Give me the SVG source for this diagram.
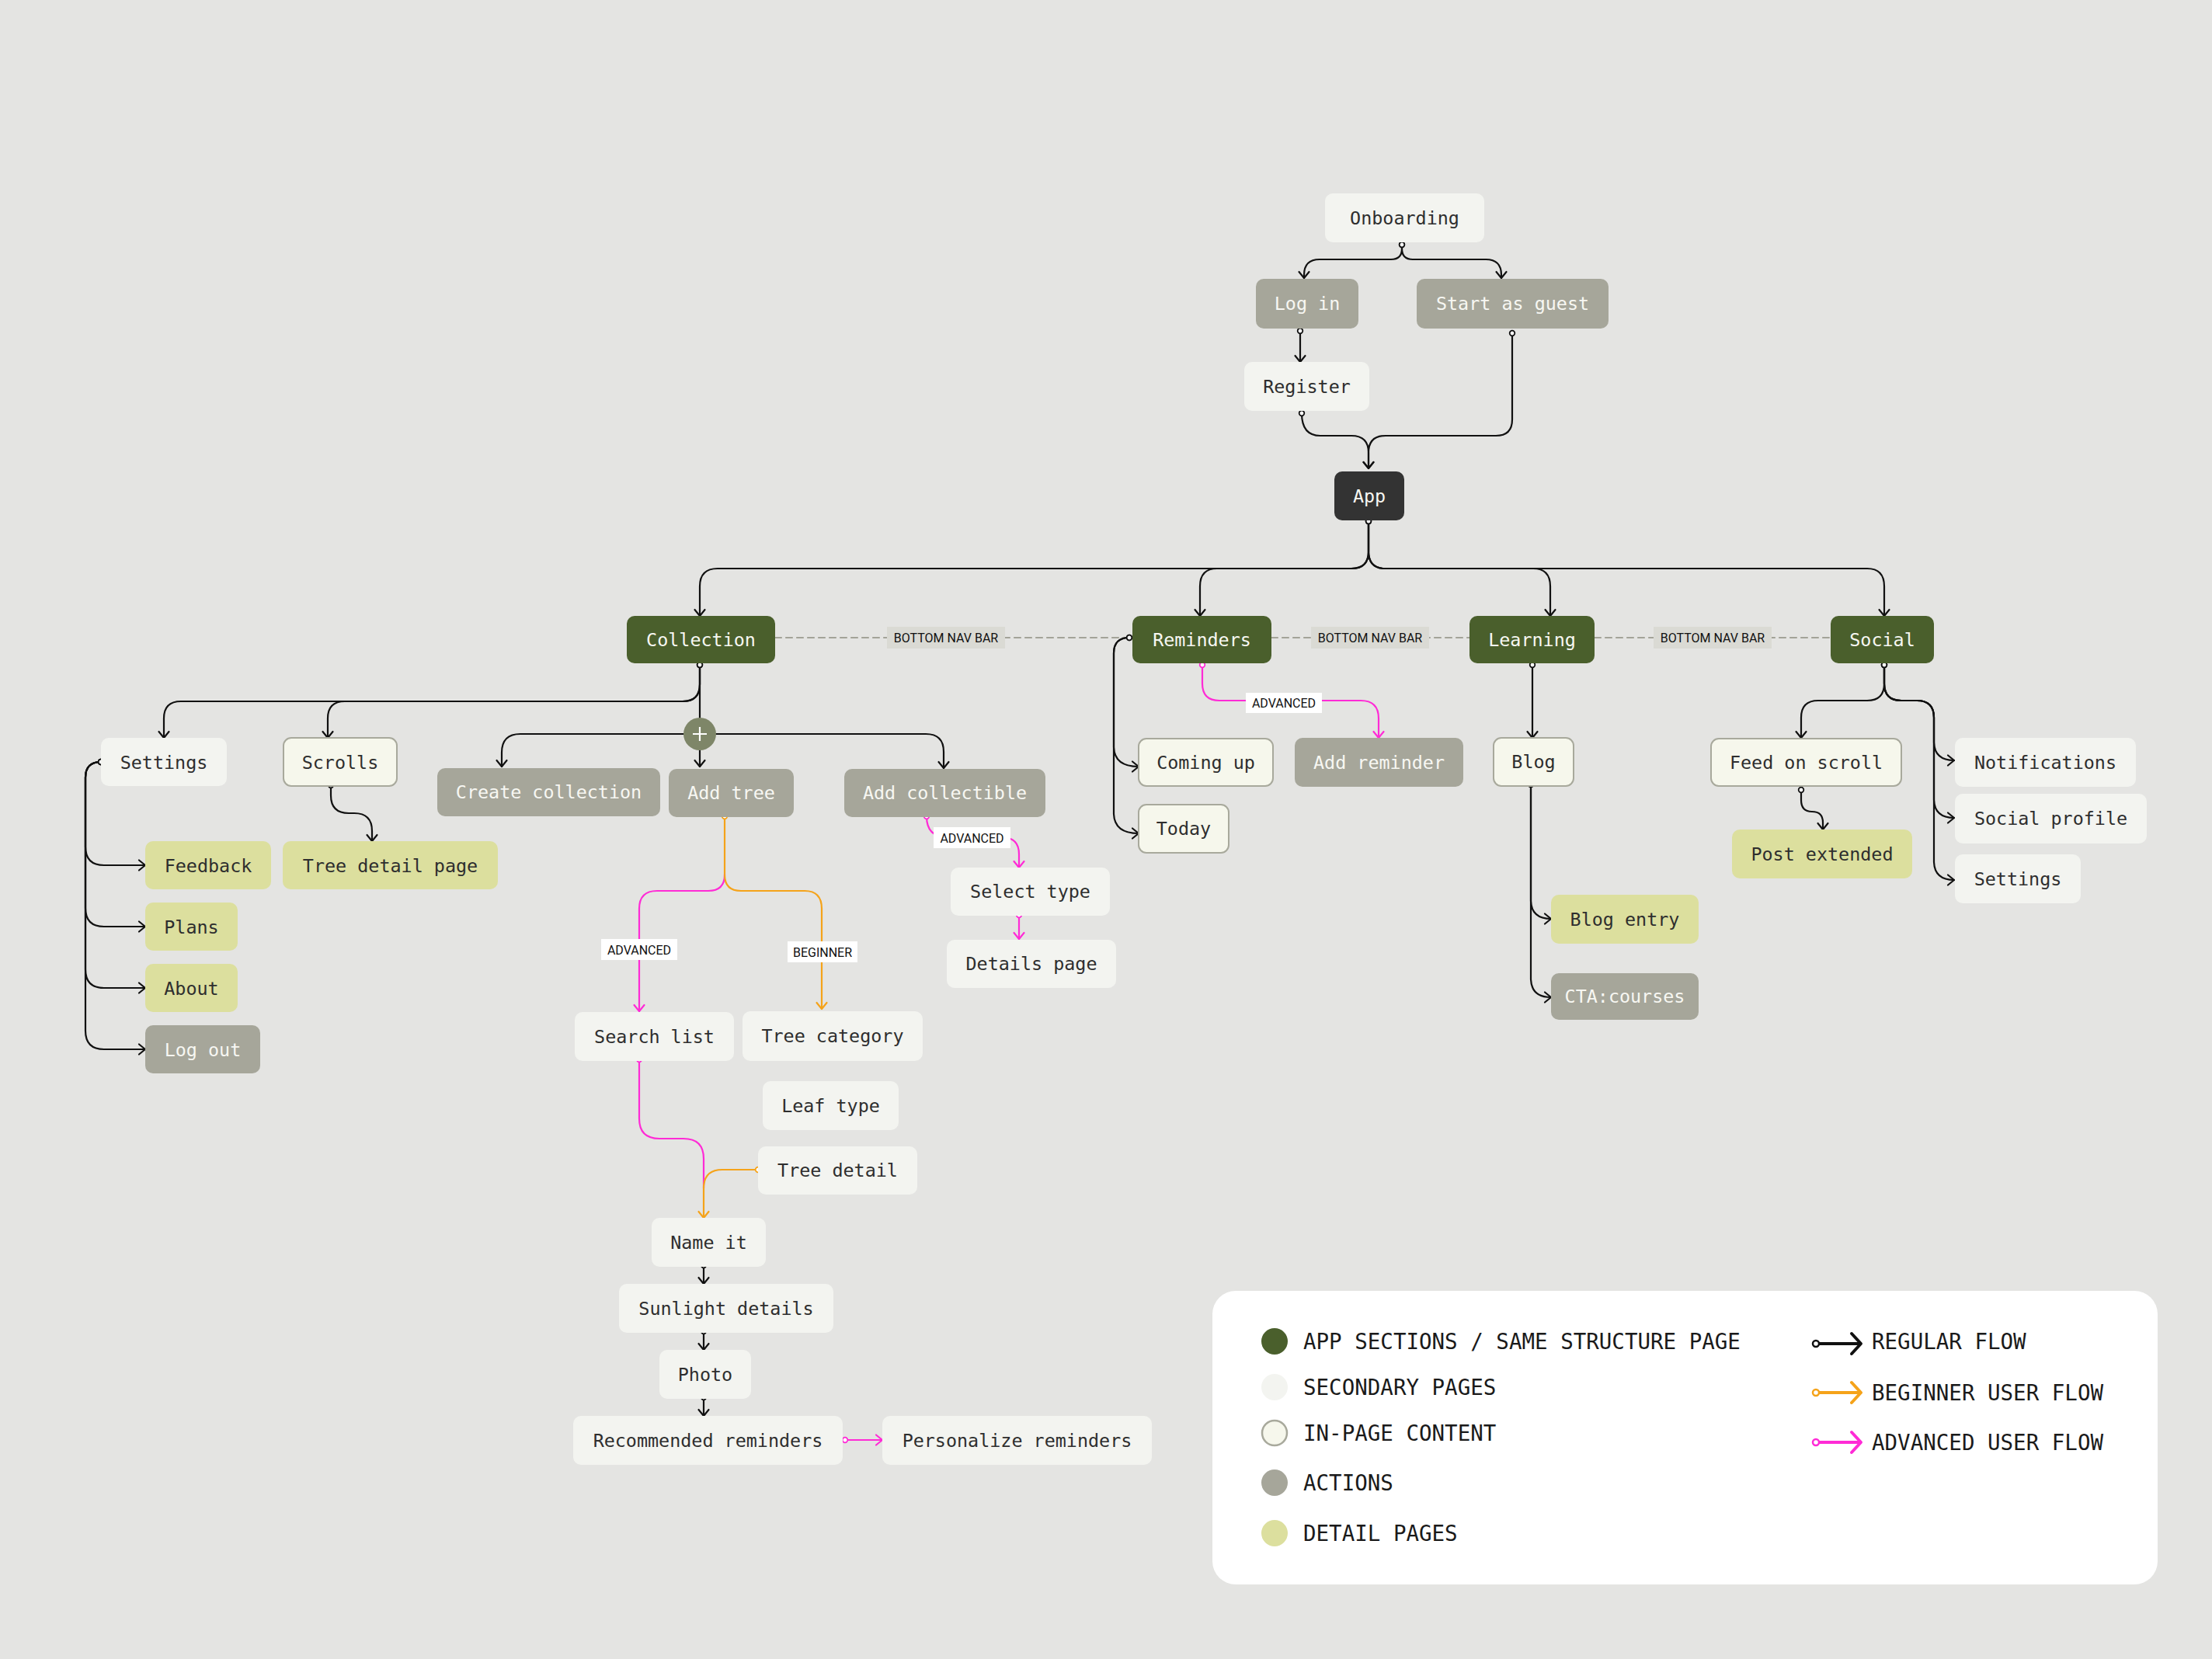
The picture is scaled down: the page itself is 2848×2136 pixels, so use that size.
<svg xmlns="http://www.w3.org/2000/svg" width="2848" height="2136" viewBox="0 0 2848 2136">
<defs>
<style>
.n rect{rx:10;ry:10}
.sec rect{fill:#f3f4f0}
.inp rect{fill:#f6f7ec;stroke:#a8a99c;stroke-width:2}
.act rect{fill:#a6a69a}
.det rect{fill:#dcdf9e}
.sct rect{fill:#4a5f2c}
.app rect{fill:#333333}
.n text{font-family:"DejaVu Sans Mono","Liberation Mono",monospace;font-size:23.4px;text-anchor:middle;fill:#2e2e2e}
.act text,.sct text,.app text{fill:#f7f7f2}
.c path{fill:none;stroke-width:2.2;stroke-linecap:round;stroke-linejoin:round}
.k{stroke:#111;marker-end:url(#ak)}
.o{stroke:#f5a31a;marker-end:url(#ao)}
.p{stroke:#ff2bd6;marker-end:url(#ap)}
.ks{marker-start:url(#dk)}
.os{marker-start:url(#do)}
.ps{marker-start:url(#dp)}
.ne{marker-end:none}
.dash{stroke:#a3a398;stroke-width:2;stroke-dasharray:8 6;fill:none}
.lb rect{fill:#dadad4}
.lw rect{fill:#ffffff}
.lb text,.lw text{font-family:Roboto,"Liberation Sans",sans-serif;font-size:16px;text-anchor:middle;fill:#111}
.lg text{font-family:"DejaVu Sans Mono","Liberation Mono",monospace;font-size:27.5px;fill:#1a1a1a}
</style>
<marker id="ak" markerUnits="userSpaceOnUse" markerWidth="24" markerHeight="24" viewBox="-12 -12 24 24" refX="0" refY="0" orient="auto"><path d="M-8,-6.5 L0,0 L-8,6.5" fill="none" stroke="#111" stroke-width="2.2" stroke-linecap="round" stroke-linejoin="round"/></marker>
<marker id="ao" markerUnits="userSpaceOnUse" markerWidth="24" markerHeight="24" viewBox="-12 -12 24 24" refX="0" refY="0" orient="auto"><path d="M-8,-6.5 L0,0 L-8,6.5" fill="none" stroke="#f5a31a" stroke-width="2.2" stroke-linecap="round" stroke-linejoin="round"/></marker>
<marker id="ap" markerUnits="userSpaceOnUse" markerWidth="24" markerHeight="24" viewBox="-12 -12 24 24" refX="0" refY="0" orient="auto"><path d="M-8,-6.5 L0,0 L-8,6.5" fill="none" stroke="#ff2bd6" stroke-width="2.2" stroke-linecap="round" stroke-linejoin="round"/></marker>
<marker id="dk" markerUnits="userSpaceOnUse" markerWidth="12" markerHeight="12" viewBox="-6 -6 12 12" refX="0" refY="0" orient="auto"><circle r="3.3" fill="#ffffff" stroke="#111" stroke-width="1.8"/></marker>
<marker id="do" markerUnits="userSpaceOnUse" markerWidth="12" markerHeight="12" viewBox="-6 -6 12 12" refX="0" refY="0" orient="auto"><circle r="3.3" fill="#ffffff" stroke="#f5a31a" stroke-width="1.8"/></marker>
<marker id="dp" markerUnits="userSpaceOnUse" markerWidth="12" markerHeight="12" viewBox="-6 -6 12 12" refX="0" refY="0" orient="auto"><circle r="3.3" fill="#ffffff" stroke="#ff2bd6" stroke-width="1.8"/></marker>
</defs>
<rect width="2848" height="2136" fill="#e4e4e2"/>

<g id="connectors" class="c">
<path class="dash" d="M998,821 H1458 M1637,821 H1892 M2053,821 H2357"/>
<path class="k ks" d="M1805,315 V320 Q1805,334 1791,334 H1699 Q1679,334 1679,354 V358"/>
<path class="k ks" d="M1805,315 V320 Q1805,334 1819,334 H1913 Q1933,334 1933,354 V358"/>
<path class="k ks" d="M1674,426 V466"/>
<path class="k ks" d="M1676,532 Q1676,561 1700,561 H1740 Q1762,561 1762,583 V603"/>
<path class="k ks" d="M1947,429 V540 Q1947,561 1926,561 H1784 Q1762,561 1762,583 V603"/>
<path class="k ks" d="M1762,671 V710 Q1762,732 1740,732 H924 Q901,732 901,755 V793"/>
<path class="k ks" d="M1762,671 V710 Q1762,732 1740,732 H1567 Q1545,732 1545,755 V793"/>
<path class="k ks" d="M1762,671 V710 Q1762,732 1784,732 H1974 Q1996,732 1996,755 V793"/>
<path class="k ks" d="M1762,671 V710 Q1762,732 1784,732 H2404 Q2426,732 2426,755 V793"/>
<path class="k ks" d="M901,856 V881 Q901,903 879,903 H233 Q211,903 211,925 V950"/>
<path class="k ks" d="M901,856 V881 Q901,903 879,903 H444 Q422,903 422,925 V950"/>
<path class="k ks ne" d="M901,856 V945"/>
<path class="k" d="M901,945 V987"/>
<path class="k" d="M901,945 H670 Q646,945 646,969 V987"/>
<path class="k" d="M901,945 H1192 Q1215,945 1215,968 V989"/>
<path class="k ks" d="M130,981 Q110,981 110,1001 V1090 Q110,1114 134,1114 H187"/>
<path class="k ks" d="M130,981 Q110,981 110,1001 V1169 Q110,1193 134,1193 H187"/>
<path class="k ks" d="M130,981 Q110,981 110,1001 V1248 Q110,1272 134,1272 H187"/>
<path class="k ks" d="M130,981 Q110,981 110,1001 V1327 Q110,1351 134,1351 H187"/>
<path class="k ks" d="M426,1011 V1024 Q426,1047 449,1047 H456 Q479,1047 479,1070 V1083"/>
<path class="o os ne" d="M933,1051 V1126"/>
<path class="p" d="M933,1126 Q933,1147 912,1147 H846 Q823,1147 823,1170 V1302"/>
<path class="o" d="M933,1126 Q933,1147 954,1147 H1036 Q1058,1147 1058,1170 V1299"/>
<path class="p ps" d="M1193,1051 Q1193,1078 1220,1078 H1290 Q1312,1078 1312,1100 V1117"/>
<path class="p ps" d="M1312,1178 V1209"/>
<path class="p ps" d="M1548,856 V880 Q1548,902 1570,902 H1752 Q1775,902 1775,925 V950"/>
<path class="k ks" d="M1454,821 Q1434,821 1434,841 V962 Q1435,987 1466,987"/>
<path class="k ks" d="M1454,821 Q1434,821 1434,841 V1048 Q1435,1073 1466,1073"/>
<path class="k ks" d="M1973,856 V950"/>
<path class="k ks" d="M1971,1010 V1160 Q1972,1183 1997,1183"/>
<path class="k ks" d="M1971,1010 V1261 Q1972,1284 1997,1284"/>
<path class="k ks" d="M2426,856 V880 Q2426,902 2404,902 H2341 Q2319,902 2319,924 V950"/>
<path class="k ks" d="M2426,856 V880 Q2426,902 2448,902 H2468 Q2490,902 2490,924 V956 Q2491,979 2516,979"/>
<path class="k ks" d="M2426,856 V880 Q2426,902 2448,902 H2468 Q2490,902 2490,924 V1030 Q2491,1053 2516,1053"/>
<path class="k ks" d="M2426,856 V880 Q2426,902 2448,902 H2468 Q2490,902 2490,924 V1110 Q2491,1133 2516,1133"/>
<path class="k ks" d="M2319,1017 V1030 Q2319,1045 2333,1045 Q2347,1045 2347,1059 V1068"/>
<path class="p ps ne" d="M823,1364 V1440 Q823,1466 849,1466 H880 Q906,1466 906,1492 V1530"/>
<path class="o os" d="M976,1506 H930 Q906,1506 906,1530 V1568"/>
<path class="k ks" d="M906,1629 V1653"/>
<path class="k ks" d="M906,1714 V1738"/>
<path class="k ks" d="M906,1799 V1823"/>
<path class="p ps" d="M1088,1854 H1136"/>
</g>

<g id="labels">
<g class="lb"><rect x="1142" y="807" width="152" height="28"/><text x="1218" y="827">BOTTOM NAV BAR</text></g>
<g class="lb"><rect x="1688" y="807" width="152" height="28"/><text x="1764" y="827">BOTTOM NAV BAR</text></g>
<g class="lb"><rect x="2129" y="807" width="152" height="28"/><text x="2205" y="827">BOTTOM NAV BAR</text></g>
<g class="lw"><rect x="1604" y="892" width="98" height="26"/><text x="1653" y="911">ADVANCED</text></g>
<g class="lw"><rect x="1202" y="1065" width="99" height="27"/><text x="1251.5" y="1084.5">ADVANCED</text></g>
<g class="lw"><rect x="774" y="1209" width="98" height="27"/><text x="823" y="1228.5">ADVANCED</text></g>
<g class="lw"><rect x="1014" y="1212" width="90" height="27"/><text x="1059" y="1231.5">BEGINNER</text></g>
</g>

<g id="plus"><circle cx="901" cy="945" r="21" fill="#7e8668"/><path d="M901,936 V954 M892,945 H910" stroke="#ffffff" stroke-width="2.2"/></g>

<g id="n-onboarding" class="n sec"><rect x="1706" y="249" width="205" height="63"/><text x="1808.5" y="289">Onboarding</text></g>
<g id="n-login" class="n act"><rect x="1617" y="359" width="132" height="64"/><text x="1683" y="399">Log in</text></g>
<g id="n-guest" class="n act"><rect x="1824" y="359" width="247" height="64"/><text x="1947.5" y="399">Start as guest</text></g>
<g id="n-register" class="n sec"><rect x="1602" y="466" width="161" height="63"/><text x="1682.5" y="506">Register</text></g>
<g id="n-app" class="n app"><rect x="1718" y="607" width="90" height="63"/><text x="1763" y="647">App</text></g>
<g id="n-collection" class="n sct"><rect x="807" y="793" width="191" height="61"/><text x="902.5" y="832">Collection</text></g>
<g id="n-reminders" class="n sct"><rect x="1458" y="793" width="179" height="61"/><text x="1547.5" y="832">Reminders</text></g>
<g id="n-learning" class="n sct"><rect x="1892" y="793" width="161" height="61"/><text x="1972.5" y="832">Learning</text></g>
<g id="n-social" class="n sct"><rect x="2357" y="793" width="133" height="61"/><text x="2423.5" y="832">Social</text></g>
<g id="n-settings" class="n sec"><rect x="130" y="950" width="162" height="62"/><text x="211" y="989.5">Settings</text></g>
<g id="n-scrolls" class="n inp"><rect x="365" y="950" width="146" height="62"/><text x="438" y="989.5">Scrolls</text></g>
<g id="n-createcollection" class="n act"><rect x="563" y="989" width="287" height="62"/><text x="706.5" y="1028">Create collection</text></g>
<g id="n-addtree" class="n act"><rect x="861" y="990" width="161" height="62"/><text x="941.5" y="1029">Add tree</text></g>
<g id="n-addcollectible" class="n act"><rect x="1087" y="990" width="259" height="62"/><text x="1216.5" y="1029">Add collectible</text></g>
<g id="n-feedback" class="n det"><rect x="187" y="1083" width="162" height="62"/><text x="268" y="1122.5">Feedback</text></g>
<g id="n-treedetailpage" class="n det"><rect x="364" y="1083" width="277" height="62"/><text x="502.5" y="1122.5">Tree detail page</text></g>
<g id="n-plans" class="n det"><rect x="187" y="1162" width="119" height="62"/><text x="246.5" y="1201.5">Plans</text></g>
<g id="n-about" class="n det"><rect x="187" y="1241" width="119" height="62"/><text x="246.5" y="1280.5">About</text></g>
<g id="n-logout" class="n act"><rect x="187" y="1320" width="148" height="62"/><text x="261" y="1359.5">Log out</text></g>
<g id="n-comingup" class="n inp"><rect x="1466" y="951" width="173" height="61"/><text x="1552.5" y="990">Coming up</text></g>
<g id="n-addreminder" class="n act"><rect x="1667" y="950" width="217" height="63"/><text x="1775.5" y="990">Add reminder</text></g>
<g id="n-today" class="n inp"><rect x="1466" y="1036" width="116" height="62"/><text x="1524" y="1075">Today</text></g>
<g id="n-blog" class="n inp"><rect x="1923" y="950" width="103" height="62"/><text x="1974.5" y="989">Blog</text></g>
<g id="n-blogentry" class="n det"><rect x="1997" y="1152" width="190" height="63"/><text x="2092" y="1192">Blog entry</text></g>
<g id="n-cta" class="n act"><rect x="1997" y="1253" width="190" height="60"/><text x="2092" y="1291">CTA:courses</text></g>
<g id="n-feed" class="n inp"><rect x="2203" y="951" width="245" height="61"/><text x="2325.5" y="990">Feed on scroll</text></g>
<g id="n-postextended" class="n det"><rect x="2230" y="1068" width="232" height="63"/><text x="2346" y="1108">Post extended</text></g>
<g id="n-notifications" class="n sec"><rect x="2517" y="950" width="233" height="63"/><text x="2633.5" y="990">Notifications</text></g>
<g id="n-socialprofile" class="n sec"><rect x="2517" y="1022" width="247" height="64"/><text x="2640.5" y="1062">Social profile</text></g>
<g id="n-socialsettings" class="n sec"><rect x="2517" y="1100" width="162" height="63"/><text x="2598" y="1140">Settings</text></g>
<g id="n-selecttype" class="n sec"><rect x="1224" y="1117" width="205" height="62"/><text x="1326.5" y="1156">Select type</text></g>
<g id="n-detailspage" class="n sec"><rect x="1219" y="1210" width="218" height="62"/><text x="1328" y="1249">Details page</text></g>
<g id="n-searchlist" class="n sec"><rect x="740" y="1303" width="205" height="63"/><text x="842.5" y="1343">Search list</text></g>
<g id="n-treecategory" class="n sec"><rect x="956" y="1302" width="232" height="64"/><text x="1072" y="1342">Tree category</text></g>
<g id="n-leaftype" class="n sec"><rect x="982" y="1392" width="175" height="63"/><text x="1069.5" y="1432">Leaf type</text></g>
<g id="n-treedetail" class="n sec"><rect x="976" y="1476" width="205" height="62"/><text x="1078.5" y="1515">Tree detail</text></g>
<g id="n-nameit" class="n sec"><rect x="839" y="1568" width="147" height="63"/><text x="912.5" y="1608">Name it</text></g>
<g id="n-sunlight" class="n sec"><rect x="797" y="1653" width="276" height="63"/><text x="935" y="1693">Sunlight details</text></g>
<g id="n-photo" class="n sec"><rect x="849" y="1738" width="118" height="63"/><text x="908" y="1778">Photo</text></g>
<g id="n-recommended" class="n sec"><rect x="738" y="1823" width="347" height="63"/><text x="911.5" y="1863">Recommended reminders</text></g>
<g id="n-personalize" class="n sec"><rect x="1136" y="1823" width="347" height="63"/><text x="1309.5" y="1863">Personalize reminders</text></g>

<g id="legend" class="lg">
<rect x="1561" y="1662" width="1217" height="378" rx="30" fill="#ffffff"/>
<circle cx="1641" cy="1727" r="17" fill="#4a5f2c"/>
<circle cx="1641" cy="1786" r="17" fill="#f3f4f0"/>
<circle cx="1641" cy="1845" r="16" fill="#f6f7ec" stroke="#a8a99c" stroke-width="2.5"/>
<circle cx="1641" cy="1909" r="17" fill="#a6a69a"/>
<circle cx="1641" cy="1974" r="17" fill="#dcdf9e"/>
<text x="1678" y="1737">APP SECTIONS / SAME STRUCTURE PAGE</text>
<text x="1678" y="1796">SECONDARY PAGES</text>
<text x="1678" y="1855">IN-PAGE CONTENT</text>
<text x="1678" y="1919">ACTIONS</text>
<text x="1678" y="1984">DETAIL PAGES</text>
<g fill="none" stroke-width="4" stroke-linecap="round" stroke-linejoin="round">
<path d="M2342,1730 H2395 M2384,1717 L2396,1730 L2384,1743" stroke="#111"/>
<circle cx="2338" cy="1730" r="4" fill="#fff" stroke="#111" stroke-width="2.5"/>
<path d="M2342,1793 H2395 M2384,1780 L2396,1793 L2384,1806" stroke="#f5a31a"/>
<circle cx="2338" cy="1793" r="4" fill="#fff" stroke="#f5a31a" stroke-width="2.5"/>
<path d="M2342,1857 H2395 M2384,1844 L2396,1857 L2384,1870" stroke="#ff2bd6"/>
<circle cx="2338" cy="1857" r="4" fill="#fff" stroke="#ff2bd6" stroke-width="2.5"/>
</g>
<text x="2410" y="1737">REGULAR FLOW</text>
<text x="2410" y="1803">BEGINNER USER FLOW</text>
<text x="2410" y="1867">ADVANCED USER FLOW</text>
</g>
</svg>
